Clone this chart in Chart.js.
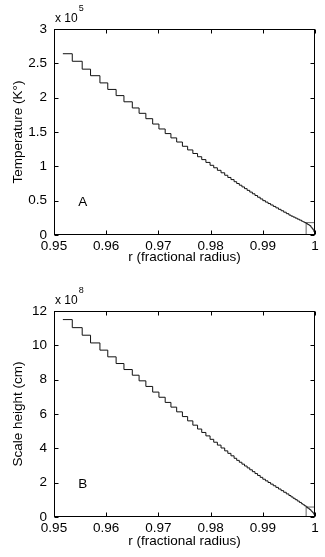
<!DOCTYPE html>
<html>
<head>
<meta charset="utf-8">
<script src="https://cdn.jsdelivr.net/npm/chart.js@4.4.1/dist/chart.umd.min.js"></script>
<style>
  body { margin: 0; background: #fff; }
  canvas { position: absolute; left: 0; }
  #chartA { top: 0; }
  #chartB { top: 280px; }
</style>
</head>
<body>
<canvas id="chartA" width="325" height="280"></canvas>
<canvas id="chartB" width="325" height="277"></canvas>
<script>
// fractional radius at the left edge of each step
const radius = [
  0.9517, 0.9535, 0.9554, 0.9570, 0.9588, 0.9603, 0.9619, 0.9634, 0.9650,
  0.9663, 0.9676, 0.9689, 0.9701, 0.9713, 0.9724, 0.9735, 0.9746, 0.9756, 0.9766, 0.9775,
  0.9783, 0.9791, 0.9799, 0.9806, 0.9813, 0.9820, 0.9827, 0.9833, 0.9839, 0.9845,
  0.9850, 0.9855, 0.9860, 0.9865, 0.9870, 0.9875, 0.9880, 0.9885, 0.9890, 0.9895,
  0.9900, 0.9905, 0.9910, 0.9915, 0.9920, 0.9925, 0.9930, 0.9935, 0.9940, 0.9945,
  0.9950, 0.9954, 0.9958, 0.9962, 0.9966, 0.9970, 0.9974,
  0.9977, 0.9980, 0.9983, 0.9986, 0.9989, 0.9992, 0.9994, 0.9996, 0.9998, 1.0000
];
// temperature, units of 10^5 K
const temperature = [
  2.64, 2.53, 2.415, 2.32, 2.215, 2.12, 2.03, 1.94, 1.85,
  1.772, 1.694, 1.616, 1.544, 1.477, 1.414, 1.354, 1.292, 1.239, 1.187, 1.14,
  1.098, 1.057, 1.015, 0.979, 0.942, 0.906, 0.87, 0.838, 0.807, 0.776,
  0.75, 0.725, 0.70, 0.675, 0.65, 0.625, 0.60, 0.575, 0.55, 0.525,
  0.50, 0.479, 0.458, 0.437, 0.416, 0.395, 0.374, 0.353, 0.332, 0.311,
  0.29, 0.275, 0.261, 0.246, 0.231, 0.217, 0.202,
  0.191, 0.18, 0.166, 0.152, 0.137, 0.115, 0.097, 0.075, 0.045, 0.0
];
// scale height, units of 10^8 cm
const scaleHeight = [
  11.5, 11.03, 10.59, 10.14, 9.72, 9.33, 8.94, 8.59, 8.26,
  7.932, 7.605, 7.277, 6.975, 6.675, 6.40, 6.125, 5.85, 5.60, 5.35, 5.125,
  4.925, 4.725, 4.525, 4.356, 4.188, 4.02, 3.852, 3.708, 3.564, 3.42,
  3.30, 3.19, 3.08, 2.97, 2.86, 2.75, 2.64, 2.53, 2.42, 2.31,
  2.20, 2.105, 2.01, 1.915, 1.82, 1.725, 1.63, 1.535, 1.44, 1.345,
  1.25, 1.17, 1.09, 1.01, 0.93, 0.85, 0.77,
  0.71, 0.65, 0.58, 0.51, 0.44, 0.36, 0.30, 0.23, 0.14, 0.0
];
// small marker box at the surface
const boxR = [0.9983, 0.9983, 1.0];
const boxTemp = [0, 0.18, 0.18];
const boxHeight = [0, 0.58, 0.58];

const xTicks = [0.95, 0.96, 0.97, 0.98, 0.99, 1];
const tempTicks = [0, 0.5, 1, 1.5, 2, 2.5, 3];
const heightTicks = [0, 2, 4, 6, 8, 10, 12];

Chart.defaults.font.family = '"Liberation Sans", Arial, sans-serif';
Chart.defaults.font.size = 13.5;
Chart.defaults.color = '#000';

const fmt = v => String(+Number(v).toFixed(2));

// matlab style box, inward ticks, panel letter and exponent
const framePlugin = {
  id: 'frame',
  afterDatasetsDraw(chart, args, opts) {
    const { ctx, chartArea: a, scales: { x, y } } = chart;
    const L = Math.round(a.left) + 0.5, R = Math.round(a.right) - 0.5;
    const T = Math.round(a.top) + 0.5, B = Math.round(a.bottom) - 0.5;
    ctx.save();
    ctx.strokeStyle = '#000';
    ctx.lineWidth = 1;
    ctx.strokeRect(L, T, R - L, B - T);
    ctx.beginPath();
    x.ticks.forEach(t => {
      const px = Math.round(x.getPixelForValue(t.value)) + 0.5;
      ctx.moveTo(px, B); ctx.lineTo(px, B - 4);
      ctx.moveTo(px, T); ctx.lineTo(px, T + 4);
    });
    y.ticks.forEach(t => {
      const py = Math.round(y.getPixelForValue(t.value)) + 0.5;
      ctx.moveTo(L, py); ctx.lineTo(L + 4, py);
      ctx.moveTo(R, py); ctx.lineTo(R - 4, py);
    });
    ctx.stroke();

    ctx.fillStyle = '#000';
    ctx.font = '13.5px "Liberation Sans", Arial, sans-serif';
    ctx.textAlign = 'center';
    ctx.textBaseline = 'middle';
    ctx.fillText(opts.letter, x.getPixelForValue(opts.letterAt[0]), y.getPixelForValue(opts.letterAt[1]));

    ctx.textAlign = 'left';
    ctx.textBaseline = 'alphabetic';
    ctx.font = '12px "Liberation Sans", Arial, sans-serif';
    const base = 'x 10';
    ctx.fillText(base, a.left + 1, a.top - 7);
    const w = ctx.measureText(base).width;
    ctx.font = '9px "Liberation Sans", Arial, sans-serif';
    ctx.fillText(opts.exponent, a.left + 2 + w, a.top - 18);
    ctx.restore();
  }
};

function makeChart(id, values, boxValues, yTicks, yMax, yTitle, letter, letterAt, exponent, topPad, xAxisH, xTitlePad) {
  return new Chart(document.getElementById(id), {
    type: 'line',
    data: {
      datasets: [
        {
          data: radius.map((r, i) => ({ x: r, y: values[i] })),
          borderColor: '#111',
          borderWidth: 1,
          pointRadius: 0,
          stepped: 'before',
          fill: false
        },
        {
          data: boxR.map((r, i) => ({ x: r, y: boxValues[i] })),
          borderColor: '#666',
          borderWidth: 1,
          pointRadius: 0,
          fill: false
        }
      ]
    },
    options: {
      responsive: false,
      animation: false,
      layout: { padding: { top: topPad, right: 10, left: 0, bottom: 0 } },
      plugins: {
        legend: { display: false },
        tooltip: { enabled: false },
        frame: { letter: letter, letterAt: letterAt, exponent: exponent }
      },
      scales: {
        x: {
          type: 'linear',
          min: 0.95,
          max: 1,
          afterBuildTicks: s => { s.ticks = xTicks.map(v => ({ value: v })); },
          afterFit: s => { s.height = xAxisH; },
          grid: { display: false, drawTicks: false },
          border: { display: false },
          ticks: { callback: fmt, padding: 3, maxRotation: 0, autoSkip: false },
          title: { display: true, text: 'r (fractional radius)', font: { size: 13.5 }, padding: { top: 0, bottom: xTitlePad } }
        },
        y: {
          type: 'linear',
          min: 0,
          max: yMax,
          afterBuildTicks: s => { s.ticks = yTicks.map(v => ({ value: v })); },
          afterFit: s => { s.width = 54; },
          grid: { display: false, drawTicks: false },
          border: { display: false },
          ticks: { callback: fmt, padding: 7, autoSkip: false },
          title: { display: true, text: yTitle, font: { size: 13.5 }, padding: { top: 10, bottom: 0 } }
        }
      }
    },
    plugins: [framePlugin]
  });
}

makeChart('chartA', temperature, boxTemp, tempTicks, 3, 'Temperature (K°)', 'A', [0.9555, 0.48], '5', 29, 45, 15);
makeChart('chartB', scaleHeight, boxHeight, heightTicks, 12, 'Scale height (cm)', 'B', [0.9555, 1.9], '8', 31, 40, 8);
</script>
</body>
</html>
